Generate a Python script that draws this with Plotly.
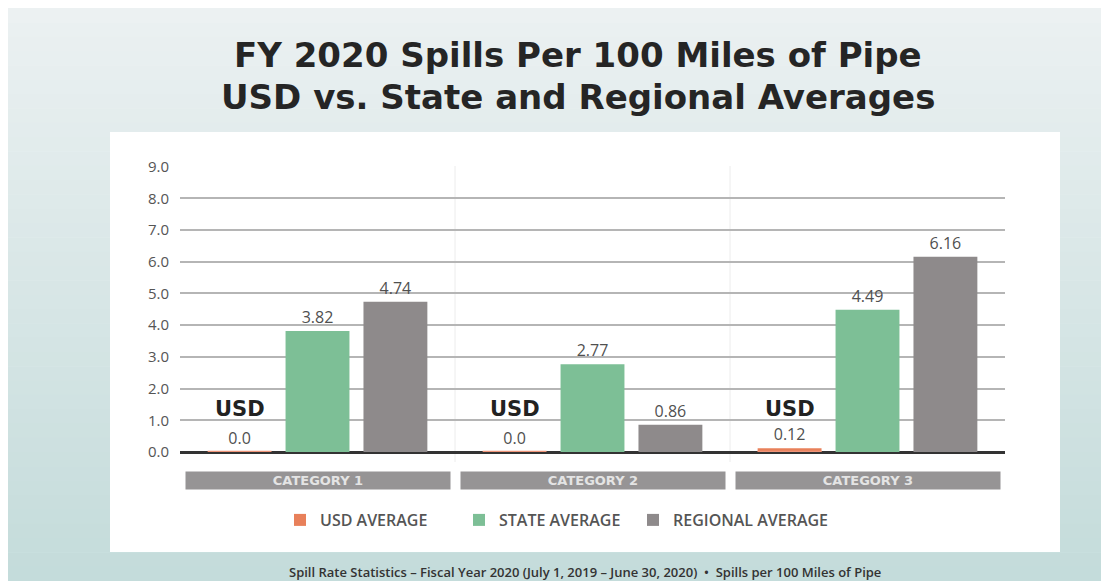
import plotly.graph_objects as go

categories = ["CATEGORY 1", "CATEGORY 2", "CATEGORY 3"]
usd_avg = [0.0, 0.0, 0.12]
state_avg = [3.82, 2.77, 4.49]
regional_avg = [4.74, 0.86, 6.16]
series_names = ["USD AVERAGE", "STATE AVERAGE", "REGIONAL AVERAGE"]
usd_label = "USD"
y_ticks = [0, 1, 2, 3, 4, 5, 6, 7, 8, 9]
title_lines = ["FY 2020 Spills Per 100 Miles of Pipe", "USD vs. State and Regional Averages"]
footer = "Spill Rate Statistics – Fiscal Year 2020 (July 1, 2019 – June 30, 2020)  •  Spills per 100 Miles of Pipe"

OFF = 8                      # page body margin of the html page
W, H = 1109 - OFF, 581 - OFF
L, R, T, B = 180, 1005, 166, 452  # plot area box in screenshot pixels


def px(xp):
    return (xp - L) / (R - L)


def py(yp):
    return (B - yp) / (B - T)


def fmt(v):
    return f"{v:.1f}" if v == 0 else f"{v:.2f}"


ORANGE = "#e8805a"
GREEN = "#7dbf96"
GRAY = "#8e8a8b"
TXT = "#505050"
VALFONT = dict(size=16, color=TXT, family="Open Sans")

fig = go.Figure()
fig.add_trace(go.Bar(x=categories, y=usd_avg, name=series_names[0], offsetgroup="usd", legend="legend",
                     marker=dict(color=ORANGE, line=dict(width=0)),
                     text=[fmt(v) for v in usd_avg], textposition="outside", textfont=VALFONT, cliponaxis=False))
# thin orange strip marking the USD bar position on the baseline
fig.add_trace(go.Bar(x=categories, y=[0.08] * len(categories), base=-0.04, offsetgroup="usd", showlegend=False,
                     hoverinfo="skip", marker=dict(color="#ee9478", line=dict(width=0))))
fig.add_trace(go.Bar(x=categories, y=state_avg, name=series_names[1], offsetgroup="state", legend="legend2",
                     marker=dict(color=GREEN, line=dict(width=0)),
                     text=[fmt(v) for v in state_avg], textposition="outside", textfont=VALFONT, cliponaxis=False))
fig.add_trace(go.Bar(x=categories, y=regional_avg, name=series_names[2], offsetgroup="regional", legend="legend3",
                     marker=dict(color=GRAY, line=dict(width=0)),
                     text=[fmt(v) for v in regional_avg], textposition="outside", textfont=VALFONT, cliponaxis=False))

shapes = []
# gradient background
n = 40
top_c = (236, 241, 242)
bot_c = (196, 220, 219)
y0, y1 = 8, 581
for i in range(n):
    a = y0 + (y1 - y0) * i / n
    b = y0 + (y1 - y0) * (i + 1) / n
    t = i / (n - 1)
    c = tuple(int(top_c[k] + (bot_c[k] - top_c[k]) * t) for k in range(3))
    shapes.append(dict(type="rect", xref="paper", yref="paper", x0=px(8), x1=px(1101), y0=py(b + 0.5), y1=py(a),
                       fillcolor=f"rgb{c}", line=dict(width=0), layer="below"))
# white panel
shapes.append(dict(type="rect", xref="paper", yref="paper", x0=px(110), x1=px(1060), y0=py(552), y1=py(132),
                   fillcolor="white", line=dict(width=0), layer="below"))
# faint category separators
for k in (0.5, 1.5):
    shapes.append(dict(type="line", xref="x", yref="paper", x0=k, x1=k, y0=py(462), y1=1,
                       line=dict(color="#ececec", width=1), layer="below"))

annotations = []
for i, line in enumerate(title_lines):
    annotations.append(dict(x=px(578), xref="paper", y=py([55, 97][i]), yref="paper", text=f"<b>{line}</b>",
                            showarrow=False, xanchor="center", yanchor="middle",
                            font=dict(size=34, color="#252525", family="DejaVu Sans")))
for c in categories:
    annotations.append(dict(x=c, xref="x", y=py(480.5), yref="paper", text=f"<b>{c}</b>", showarrow=False,
                            width=262, height=15, bgcolor="#969495",
                            font=dict(size=13, color="#e4e4e4", family="DejaVu Sans"), xanchor="center", yanchor="middle"))
    annotations.append(dict(x=c, xref="x", xshift=-78, y=0, yref="y", yshift=43, text=f"<b>{usd_label}</b>",
                            showarrow=False, xanchor="center", yanchor="middle",
                            font=dict(size=21, color="#222222", family="DejaVu Sans")))
annotations.append(dict(x=px(585), xref="paper", y=py(572), yref="paper", text=footer, showarrow=False,
                        font=dict(size=13, color="#333333", family="Open Sans", weight=600),
                        xanchor="center", yanchor="middle"))

legend_style = dict(orientation="h", xanchor="left", xref="paper", y=py(520), yanchor="middle",
                    font=dict(size=16, color="#555555", family="Open Sans", weight=600),
                    bgcolor="rgba(0,0,0,0)")

fig.update_layout(
    width=W, height=H,
    margin=dict(l=L - OFF, r=W - (R - OFF), t=T - OFF, b=H - (B - OFF), autoexpand=False),
    paper_bgcolor="white", plot_bgcolor="rgba(0,0,0,0)",
    barmode="group", bargap=0.15, bargroupgap=0.18,
    showlegend=True,
    legend=dict(x=px(280), **legend_style),
    legend2=dict(x=px(459), **legend_style),
    legend3=dict(x=px(633), **legend_style),
    shapes=shapes, annotations=annotations,
    font=dict(family="Open Sans"),
)
fig.update_xaxes(showticklabels=False, showgrid=False, zeroline=False, showline=False, ticks="")
fig.update_yaxes(range=[0, 9.02], tickvals=y_ticks, tickformat=".1f", showgrid=True, gridcolor="#b5b5b5", gridwidth=2,
                 zeroline=True, zerolinecolor="#333333", zerolinewidth=3, ticks="", ticklabelstandoff=10,
                 tickfont=dict(size=15, color="#555555", family="Open Sans"), showline=False)

fig.write_html("out.html")
